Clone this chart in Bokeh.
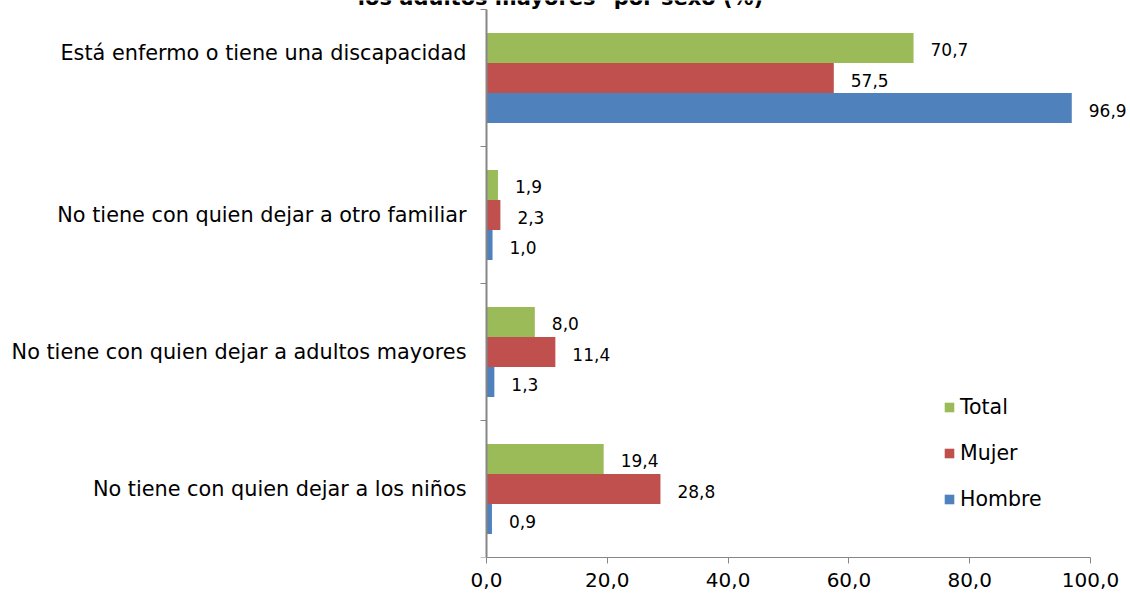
import math
from bokeh.plotting import figure
from bokeh.models import (ColumnDataSource, FixedTicker, Label, Legend, LegendItem,
                          LabelSet, Range1d, CustomJSTickFormatter)
from bokeh.embed import file_html
from bokeh.resources import INLINE
from bokeh.core.properties import value

# ---------------- data ----------------
categories = [
    "Está enfermo o tiene una discapacidad",
    "No tiene con quien dejar a otro familiar",
    "No tiene con quien dejar a adultos mayores",
    "No tiene con quien dejar a los niños",
]
series_names = ["Total", "Mujer", "Hombre"]
total = [70.7, 1.9, 8.0, 19.4]
mujer = [57.5, 2.3, 11.4, 28.8]
hombre = [96.9, 1.0, 1.3, 0.9]
x_ticks = [0, 20, 40, 60, 80, 100]
title_text = "los adultos mayores* por sexo (%)"

colors = ["#9BBB59", "#C0504D", "#4F81BD"]
AXIS_GREY = "#868686"
FONT = "DejaVu Sans"

n = len(categories)
centers = [n - i - 0.5 for i in range(n)]
bar_h = 0.219
offsets = [bar_h, 0.0, -bar_h]

# frame covers the whole canvas (so that the category labels and the cut title are not clipped);
# value 0 sits at 486 px, 6.04 px per unit; category band = 137 px
px_x = 6.04
px_y = 137.0
x_start = -486 / px_x
x_end = (1129 - 486) / px_x
y_end = n + 9 / px_y

p = figure(width=1130, height=597, output_backend="svg", toolbar_location=None,
           x_range=Range1d(x_start, x_end), y_range=Range1d(0, y_end),
           y_axis_location=None,
           min_border_left=0, min_border_right=1, min_border_top=0, min_border_bottom=40)
p.outline_line_color = None
p.xgrid.visible = False
p.ygrid.visible = False
p.background_fill_color = "white"

renderers = []
for vals, name, col, off in zip([total, mujer, hombre], series_names, colors, offsets):
    src = ColumnDataSource(dict(
        y=[c + off for c in centers],
        v=vals,
        lab=[f"{v:.1f}".replace(".", ",") for v in vals],
    ))
    r = p.hbar(y="y", left=0, right="v", height=bar_h, source=src,
               fill_color=col, line_color=None)
    renderers.append(r)
    p.add_layout(LabelSet(x="v", y="y", text="lab", source=src, x_offset=17, y_offset=-2,
                          text_baseline="middle", text_align="left",
                          text_font=value(FONT), text_font_size="17px", text_color="black"))

# x axis
xa = p.xaxis[0]
xa.ticker = FixedTicker(ticks=x_ticks)
xa.bounds = (0, 100)
xa.formatter = CustomJSTickFormatter(code="return tick.toFixed(1).replace('.', ',');")
xa.major_tick_out = 6
xa.major_tick_in = 0
xa.minor_tick_line_color = None
xa.axis_line_color = AXIS_GREY
xa.major_tick_line_color = AXIS_GREY
xa.major_label_text_font = FONT
xa.major_label_text_font_size = "20px"
xa.major_label_text_color = "black"
xa.major_label_standoff = 9

# category axis drawn at value 0: line, boundary ticks and labels
p.segment(x0=[0], y0=[0], x1=[0], y1=[n], line_color=AXIS_GREY, line_width=2)
boundaries = list(range(n + 1))
p.ray(x=[0] * len(boundaries), y=boundaries, length=6, length_units="screen",
      angle=math.pi, line_color=AXIS_GREY, line_width=1)
label_pos = list(centers)
label_pos[0] = centers[0] + 25 / px_y
cat_src = ColumnDataSource(dict(y=label_pos, text=categories))
p.text(x=0, y="y", text="text", source=cat_src, x_offset=-20, text_align="right",
       text_baseline="middle", text_font=value(FONT), text_font_size="20.8px",
       text_color="black")

# legend
legend = Legend(items=[LegendItem(label=nm, renderers=[r]) for nm, r in zip(series_names, renderers)],
                location=(943, 46), glyph_width=12, glyph_height=12, label_height=24,
                spacing=22, padding=0, margin=0, border_line_color=None,
                background_fill_alpha=0, label_text_font=FONT, label_text_font_size="20.5px",
                label_text_color="black", label_standoff=5)
p.add_layout(legend)

# title line, cut by the top edge as in the reference
p.add_layout(Label(x=12.25, y=n + 12 / px_y, text=title_text,
                   text_align="center", text_baseline="alphabetic", text_font=FONT,
                   text_font_size="21px", text_font_style="bold", text_color="black"))

open("out.html", "w").write(file_html(p, INLINE))
